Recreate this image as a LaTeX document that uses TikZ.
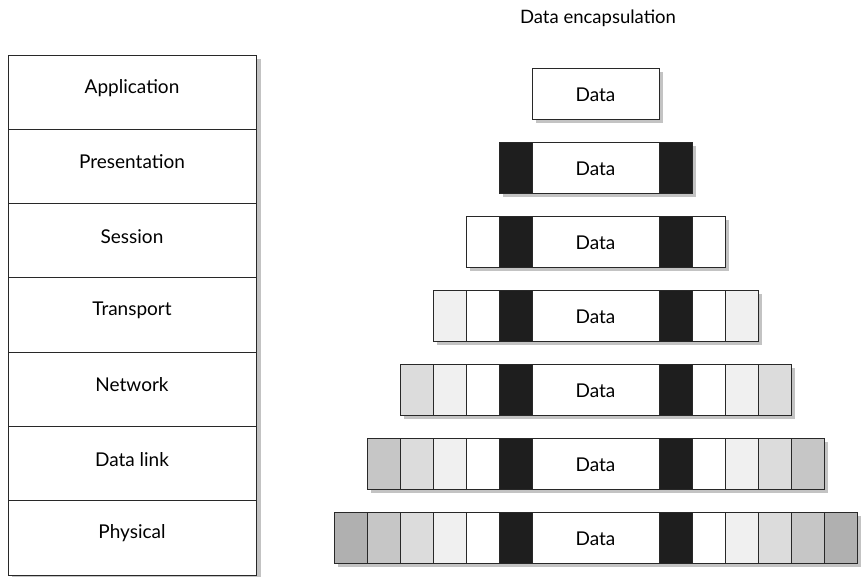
\documentclass[tikz,border=0pt]{standalone}
\usepackage{fontspec}
\setmainfont{Lato}
\usepackage{tikz}
\usetikzlibrary{positioning}
\definecolor{edgegray}{RGB}{40,40,40}
\definecolor{shadowgray}{RGB}{195,195,195}
\definecolor{hdr1}{RGB}{30,30,30}
\definecolor{hdr2}{RGB}{255,255,255}
\definecolor{hdr3}{RGB}{240,240,240}
\definecolor{hdr4}{RGB}{220,220,220}
\definecolor{hdr5}{RGB}{198,198,198}
\definecolor{hdr6}{RGB}{176,176,176}
\tikzset{
  layerbox/.style={draw=edgegray,fill=white,line width=0.9pt,minimum width=248pt,minimum height=74.3pt,
    inner sep=0pt,font=\fontsize{19}{22}\selectfont},
  databox/.style={draw=edgegray,fill=white,line width=0.9pt,minimum width=127pt,minimum height=51pt,
    inner sep=0pt,font=\fontsize{19}{22}\selectfont},
  hdrcell/.style={draw=edgegray,line width=0.9pt,minimum width=33pt,minimum height=51pt,inner sep=0pt},
  titlenote/.style={font=\fontsize{18.5}{22}\selectfont,inner sep=0pt}
}
\begin{document}
\begin{tikzpicture}[x=1pt,y=-1pt]
  \useasboundingbox (0,0) rectangle (861,577);
  % OSI stack
  \fill[shadowgray] (12,59) rectangle (261,580);
  \foreach \name [count=\i] in {Application,Presentation,Session,Transport,Network,Data link,Physical}{
    \node[layerbox] (layer\i) at (132,{55+74.3*(\i-0.5)}) {};
    \node[font=\fontsize{19}{22}\selectfont] (label\i) at ([yshift=4.5pt]layer\i.center) {\name};
  }

  % encapsulation rows
  \node[titlenote] (title) at (598,18) {Data encapsulation};
  \foreach \r in {1,...,7}{
    \pgfmathsetmacro\yc{93.5+74*(\r-1)}
    \pgfmathsetmacro\hw{63.5+33*(\r-1)}
    \fill[shadowgray] ({595.5-\hw+4},{\yc-25.5+4}) rectangle ({595.5+\hw+4},{\yc+25.5+4});
    \node[databox,text depth=0pt] (data\r) at (595.5,\yc) {\raisebox{-2pt}{Data}};
    \ifnum\r>1
      \pgfmathtruncatemacro\last{\r-1}
      \foreach \k in {1,...,\last}{
        \node[hdrcell,fill=hdr\k] (lhdr\r-\k) at ({595.5-63.5-33*\k+16.5},\yc) {};
        \node[hdrcell,fill=hdr\k] (rhdr\r-\k) at ({595.5+63.5+33*\k-16.5},\yc) {};
      }
    \fi
  }
\end{tikzpicture}
\end{document}
